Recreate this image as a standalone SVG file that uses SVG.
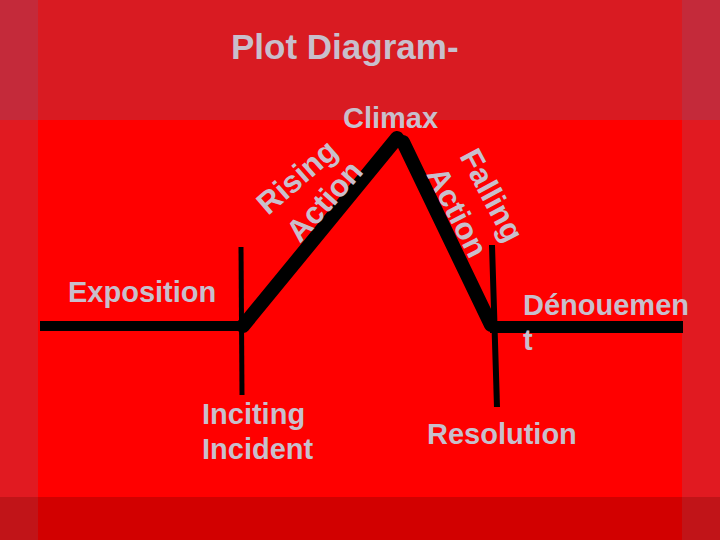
<svg xmlns="http://www.w3.org/2000/svg" width="720" height="540" viewBox="0 0 720 540">
  <defs>
    <style>
      .lbl { font-family: "Liberation Sans", Arial, sans-serif; font-weight: bold; fill: #c8bfcc; font-size: 29px; }
      .big { font-size: 35px; }
      .rot { font-size: 31px; }
      .ln { stroke: #000; fill: none; }
    </style>
  </defs>
  <g id="background">
    <rect x="0" y="0" width="720" height="120" fill="#d91b22"/>
    <rect x="0" y="120" width="720" height="377" fill="#ff0000"/>
    <rect x="0" y="497" width="720" height="43" fill="#d20000"/>
    <rect x="0" y="0" width="38" height="120" fill="#c42a3a"/>
    <rect x="682" y="0" width="38" height="120" fill="#c42a3a"/>
    <rect x="0" y="120" width="38" height="377" fill="#e11a21"/>
    <rect x="682" y="120" width="38" height="377" fill="#e11a21"/>
    <rect x="0" y="497" width="38" height="43" fill="#c11418"/>
    <rect x="682" y="497" width="38" height="43" fill="#c11418"/>
  </g>
  <g id="connectors">
    <path class="ln" d="M40 326 L243 326" stroke-width="10"/>
    <path class="ln" d="M490 327 L683 327" stroke-width="12"/>
    <path class="ln" d="M243 326 L397 138" stroke-width="14" stroke-linecap="round"/>
    <path class="ln" d="M403 142 L491 325" stroke-width="14" stroke-linecap="round"/>
    <path class="ln" d="M241 247 L242 395" stroke-width="5"/>
    <path class="ln" d="M492 245 L497 407" stroke-width="6"/>
  </g>
  <g id="title">
    <text class="lbl big" x="231" y="59">Plot Diagram-</text>
  </g>
  <g id="climax">
    <text class="lbl" x="343" y="128">Climax</text>
  </g>
  <g id="rising-action">
    <text class="lbl rot" transform="translate(268 216) rotate(-41)">Rising</text>
    <text class="lbl rot" transform="translate(300 244) rotate(-48)">Action</text>
  </g>
  <g id="falling-action">
    <text class="lbl rot" transform="translate(459 156) rotate(62)">Falling</text>
    <text class="lbl rot" transform="translate(426 174) rotate(63)">Action</text>
  </g>
  <g id="exposition">
    <text class="lbl" x="68" y="302">Exposition</text>
  </g>
  <g id="inciting-incident">
    <text class="lbl" x="202" y="424">Inciting</text>
    <text class="lbl" x="202" y="459">Incident</text>
  </g>
  <g id="denouement">
    <text class="lbl" x="523" y="315">Dénouemen</text>
    <text class="lbl" x="523" y="350">t</text>
  </g>
  <g id="resolution">
    <text class="lbl" x="427" y="444">Resolution</text>
  </g>
</svg>
